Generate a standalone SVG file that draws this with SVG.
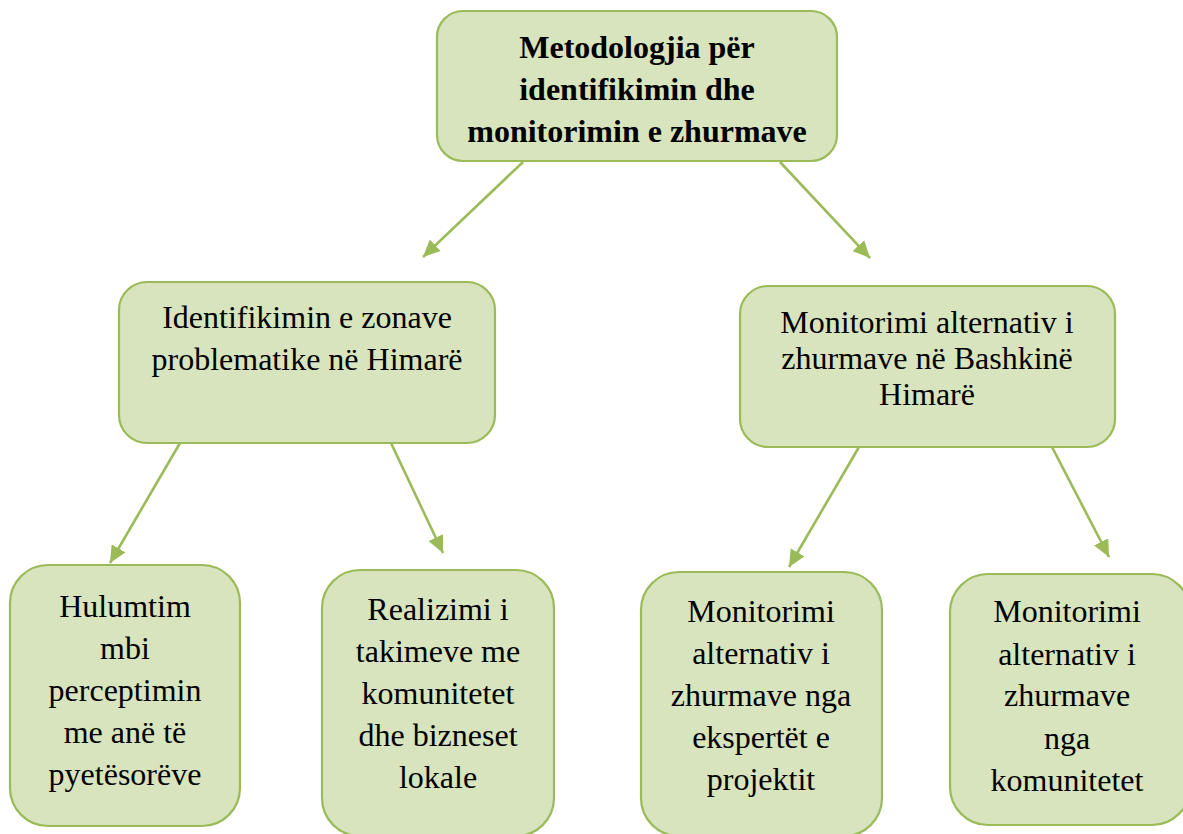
<svg xmlns="http://www.w3.org/2000/svg" width="1183" height="834" viewBox="0 0 1183 834">
<style>
.box{fill:#D7E4BD;stroke:#9BBB59;stroke-width:2.2}
.t{font-size:32px;fill:#000;text-anchor:middle}
.b{font-weight:bold}
.c{fill:none;stroke:#9BBB59;stroke-width:2.6}
</style>
<defs>
<marker id="ah" markerUnits="userSpaceOnUse" markerWidth="18" markerHeight="16" refX="17" refY="8" orient="auto">
<path d="M0,0 L17,8 L0,16 Z" fill="#9BBB59"/>
</marker>
</defs>
<rect width="1183" height="834" fill="#fff"/>
<g id="connectors">
<line class="c" x1="523" y1="162" x2="423" y2="257" marker-end="url(#ah)"/>
<line class="c" x1="780" y1="162" x2="870" y2="258" marker-end="url(#ah)"/>
<line class="c" x1="180" y1="443" x2="110" y2="563" marker-end="url(#ah)"/>
<line class="c" x1="391" y1="443" x2="443" y2="553" marker-end="url(#ah)"/>
<line class="c" x1="859" y1="447" x2="789" y2="567" marker-end="url(#ah)"/>
<line class="c" x1="1052" y1="447" x2="1109" y2="557" marker-end="url(#ah)"/>
</g>
<g font-family="'Liberation Serif', 'Times New Roman', Times, serif">
<g id="root">
<rect class="box" x="437" y="11" width="400" height="150" rx="26"/>
<text class="t b" x="637" y="58">Metodologjia për</text>
<text class="t b" x="637" y="100">identifikimin dhe</text>
<text class="t b" x="637" y="142">monitorimin e zhurmave</text>
</g>
<g id="identifikimi">
<rect class="box" x="119" y="282" width="376" height="161" rx="28"/>
<text class="t" x="307" y="328">Identifikimin e zonave</text>
<text class="t" x="307" y="370">problematike në Himarë</text>
</g>
<g id="monitorimi">
<rect class="box" x="740" y="286" width="375" height="161" rx="28"/>
<text class="t" x="927" y="333">Monitorimi alternativ i</text>
<text class="t" x="927" y="369">zhurmave në Bashkinë</text>
<text class="t" x="927" y="405">Himarë</text>
</g>
<g id="hulumtim">
<rect class="box" x="10" y="565" width="230" height="261" rx="38"/>
<text class="t" x="125" y="617">Hulumtim</text>
<text class="t" x="125" y="659">mbi</text>
<text class="t" x="125" y="701">perceptimin</text>
<text class="t" x="125" y="743">me anë të</text>
<text class="t" x="125" y="785">pyetësorëve</text>
</g>
<g id="realizimi">
<rect class="box" x="322" y="570" width="232" height="266" rx="38"/>
<text class="t" x="438" y="620">Realizimi i</text>
<text class="t" x="438" y="662">takimeve me</text>
<text class="t" x="438" y="704">komunitetet</text>
<text class="t" x="438" y="746">dhe bizneset</text>
<text class="t" x="438" y="788">lokale</text>
</g>
<g id="ekspertet">
<rect class="box" x="641" y="572" width="241" height="264" rx="38"/>
<text class="t" x="761" y="622">Monitorimi</text>
<text class="t" x="761" y="664">alternativ i</text>
<text class="t" x="761" y="706">zhurmave nga</text>
<text class="t" x="761" y="748">ekspertët e</text>
<text class="t" x="761" y="790">projektit</text>
</g>
<g id="komunitetet">
<rect class="box" x="950" y="574" width="240" height="251" rx="38"/>
<text class="t" x="1067" y="622">Monitorimi</text>
<text class="t" x="1067" y="665">alternativ i</text>
<text class="t" x="1067" y="706">zhurmave</text>
<text class="t" x="1067" y="749">nga</text>
<text class="t" x="1067" y="791">komunitetet</text>
</g>
</g>
</svg>
